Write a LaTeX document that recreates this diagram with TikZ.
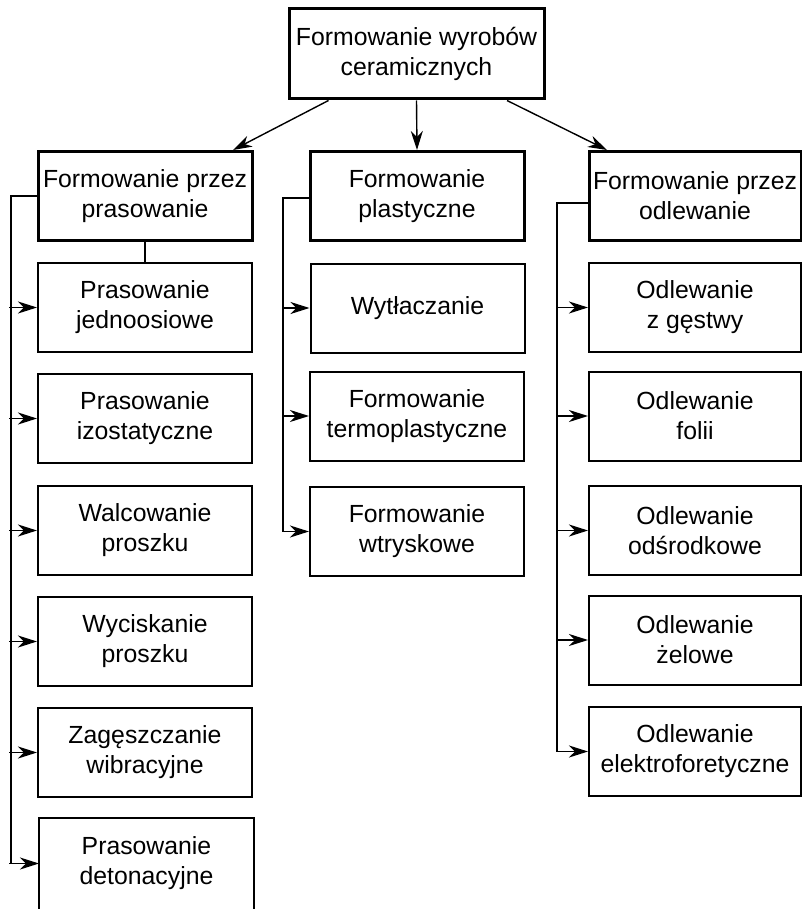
\documentclass[tikz,border=0pt]{standalone}
\usepackage{fontspec}
\setmainfont{Liberation Sans}
\usetikzlibrary{arrows.meta,calc}
\begin{document}
\begin{tikzpicture}[x=1pt,y=-1pt,
 box/.style={draw, line width=2pt, minimum width=214pt, minimum height=89pt, inner sep=0pt, align=center, font=\fontsize{24.8}{30}\selectfont},
 hbox/.style={box, line width=3pt},
 conn/.style={line width=1.4pt},
 arr/.style={conn, -{Stealth[length=19pt,width=12pt,inset=6pt]}}]
\useasboundingbox (0,0) rectangle (802,909);
% top
\node[hbox, minimum width=255pt, minimum height=90pt] (top) at (416.5,54) {Formowanie wyrobów\\ceramicznych};
% headers
\node[hbox] (h1) at (145,196) {Formowanie przez\\prasowanie};
\node[hbox] (h2) at (417,196) {Formowanie\\plastyczne};
\node[hbox, minimum width=212pt] (h3) at (695,196) {Formowanie przez\\odlewanie};
% left column
\node[box] (p1) at (145,307.5) {Prasowanie\\jednoosiowe};
\node[box] (p2) at (145,418.5) {Prasowanie\\izostatyczne};
\node[box] (p3) at (145,530.5) {Walcowanie\\proszku};
\node[box] (p4) at (145,641.5) {Wyciskanie\\proszku};
\node[box] (p5) at (145,752.5) {Zagęszczanie\\wibracyjne};
\node[box, draw=none, minimum width=213pt] (p6) at (146.5,863.5) {Prasowanie\\detonacyjne};
\draw[line width=2pt] (p6.north west) rectangle ($(p6.south east)+(0,14)$);
% middle column
\node[box] (m1) at (417.5,308) {Wytłaczanie};
\node[box] (m2) at (417,416) {Formowanie\\termoplastyczne};
\node[box] (m3) at (417,531.5) {Formowanie\\wtryskowe};
% right column
\node[box, minimum width=212pt] (r1) at (695,307.5) {Odlewanie\\z gęstwy};
\node[box, minimum width=212pt] (r2) at (695,416) {Odlewanie\\folii};
\node[box, minimum width=212pt] (r3) at (695,530.5) {Odlewanie\\odśrodkowe};
\node[box, minimum width=212pt] (r4) at (695,640) {Odlewanie\\żelowe};
\node[box, minimum width=212pt] (r5) at (695,751.5) {Odlewanie\\elektroforetyczne};
% top arrows
\draw[arr] ($(top.south)+(-88,0)$) -- ($(h1.north)+(88,0)$);
\draw[arr] (top.south) -- (h2.north);
\draw[arr] ($(top.south)+(90.5,0)$) -- ($(h3.north)+(-88,0)$);
% left tree
\draw[conn] (h1.south) -- (p1.north);
\coordinate (L) at (11,196);
\draw[conn] (h1.west) -- (L) -- (L |- p6.west);
\foreach \n in {p1,p2,p3,p4,p5,p6} \draw[arr] ([xshift=-2pt]L |- \n.west) -- (\n.west);
% middle tree
\coordinate (M) at (283,198);
\draw[conn] (h2.west |- M) -- (M) -- (M |- m3.west);
\foreach \n in {m1,m2,m3} \draw[arr] (M |- \n.west) -- (\n.west);
% right tree
\coordinate (R) at (557,203);
\draw[conn] (h3.west |- R) -- (R) -- (R |- r5.west);
\foreach \n in {r1,r2,r3,r4,r5} \draw[arr] (R |- \n.west) -- (\n.west);
\end{tikzpicture}
\end{document}
